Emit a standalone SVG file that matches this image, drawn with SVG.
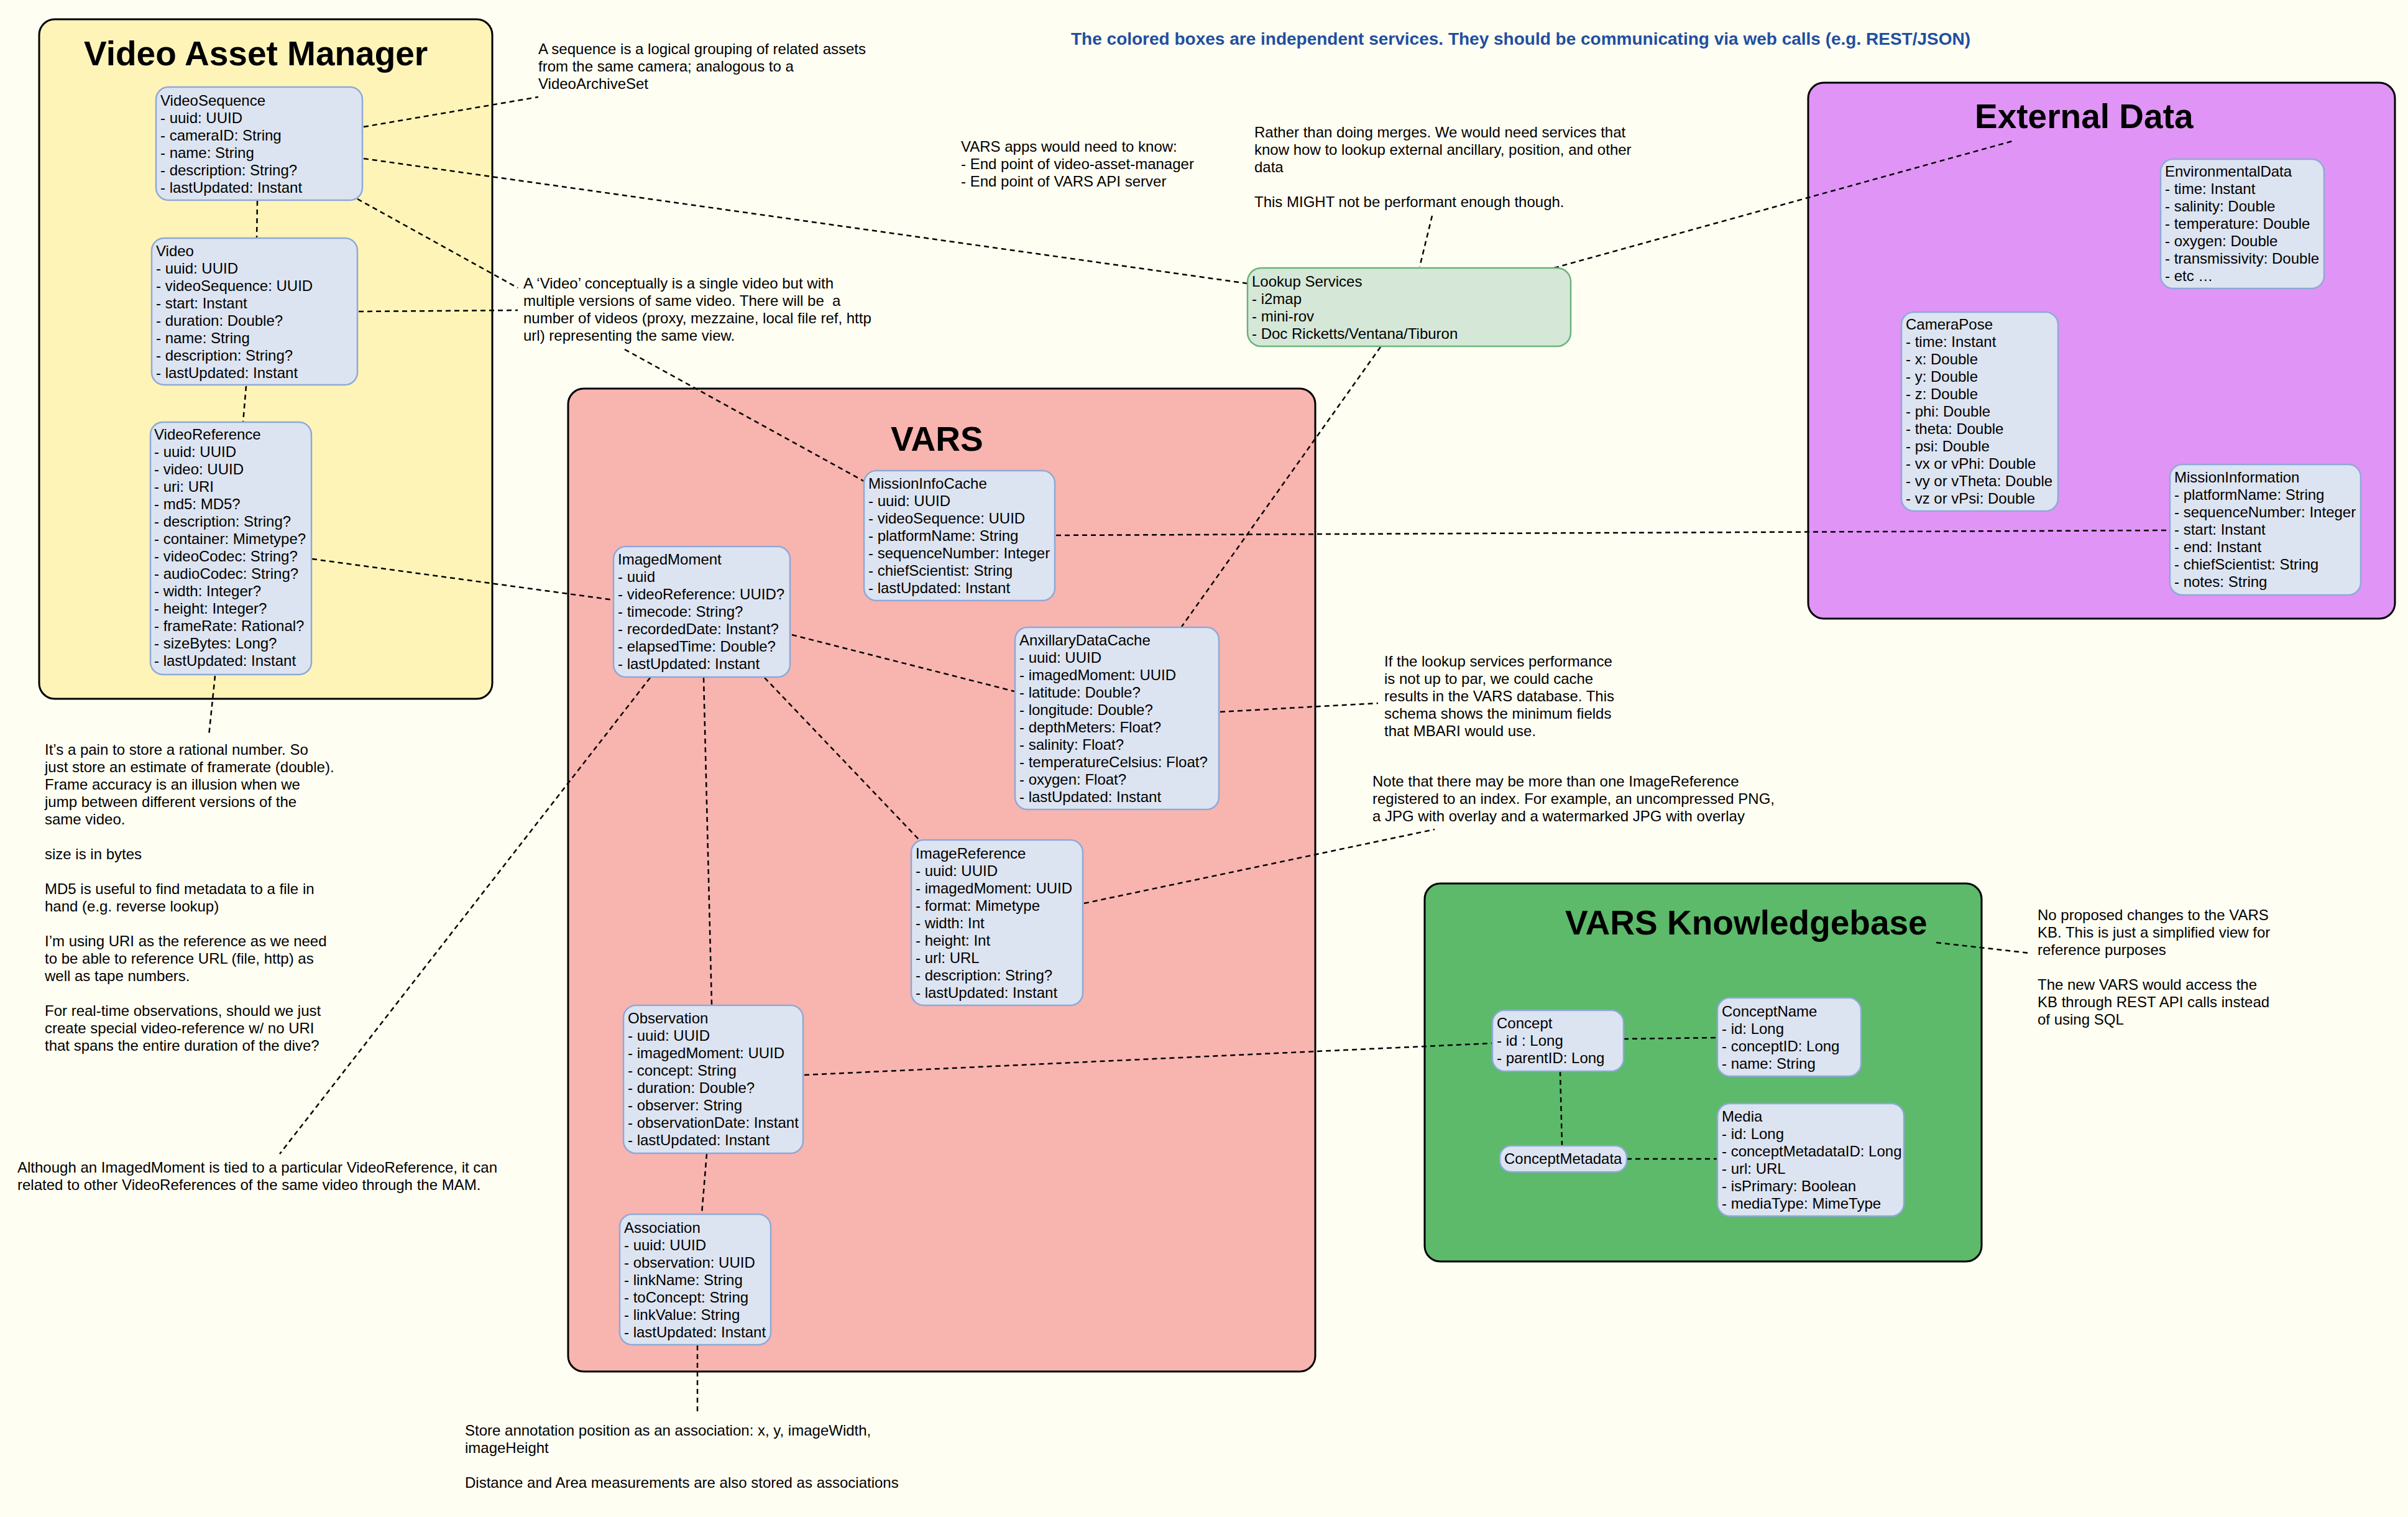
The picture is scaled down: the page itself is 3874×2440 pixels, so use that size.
<svg xmlns="http://www.w3.org/2000/svg" width="3874" height="2440" viewBox="0 0 3874 2440">
<style>
.t{font-family:"Liberation Sans",Arial,Helvetica,sans-serif;font-size:24px;fill:#000}
.ttl{font-family:"Liberation Sans",Arial,Helvetica,sans-serif;font-size:55px;font-weight:bold;fill:#000}
.hdr{font-family:"Liberation Sans",Arial,Helvetica,sans-serif;font-size:28px;font-weight:bold;fill:#1f4fa0}
.c{stroke:#000;stroke-width:3}
.n{fill:#dde4f1;stroke:#8ea9d8;stroke-width:2.5}
.lk{fill:#d5e8d8;stroke:#6ab37a;stroke-width:2.5}
.e{fill:none;stroke:#000;stroke-width:2.5;stroke-dasharray:8 6}
</style>
<rect x="0" y="0" width="3874" height="2440" fill="#fffef2"/>

<g id="containers">
  <g id="vam">
    <rect class="c" x="63" y="31" width="729" height="1093" rx="25" fill="#fff4b8"/>
    <text class="ttl" x="135" y="105">Video Asset Manager</text>
  </g>
  <g id="vars">
    <rect class="c" x="914" y="625" width="1202" height="1581" rx="25" fill="#f8b4af"/>
    <text class="ttl" x="1433" y="725">VARS</text>
  </g>
  <g id="external">
    <rect class="c" x="2909" y="133" width="944" height="862" rx="25" fill="#e094f6"/>
    <text class="ttl" x="3177" y="206">External Data</text>
  </g>
  <g id="kb">
    <rect class="c" x="2292" y="1421" width="896" height="608" rx="25" fill="#5cba6a"/>
    <text class="ttl" x="2518" y="1503">VARS Knowledgebase</text>
  </g>
</g>

<g id="connectors">
  <line class="e" x1="585" y1="204" x2="866" y2="156"/>
  <line class="e" x1="585" y1="255" x2="2007" y2="456"/>
  <line class="e" x1="575" y1="320" x2="833" y2="463"/>
  <line class="e" x1="577" y1="501" x2="833" y2="499"/>
  <line class="e" x1="414" y1="323" x2="413" y2="383"/>
  <line class="e" x1="396" y1="621" x2="391" y2="679"/>
  <line class="e" x1="502" y1="899" x2="987" y2="965"/>
  <line class="e" x1="346" y1="1087" x2="336" y2="1183"/>
  <line class="e" x1="1005" y1="562" x2="1390" y2="774"/>
  <line class="e" x1="2304" y1="347" x2="2284" y2="429"/>
  <line class="e" x1="2500" y1="431" x2="3241" y2="226"/>
  <line class="e" x1="2221" y1="558" x2="1901" y2="1008"/>
  <line class="e" x1="1274" y1="1021" x2="1632" y2="1112"/>
  <line class="e" x1="1132" y1="1090" x2="1145" y2="1616"/>
  <line class="e" x1="1230" y1="1090" x2="1479" y2="1351"/>
  <line class="e" x1="1046" y1="1090" x2="450" y2="1856"/>
  <line class="e" x1="1963" y1="1145" x2="2217" y2="1131"/>
  <line class="e" x1="1699" y1="861" x2="3490" y2="853"/>
  <line class="e" x1="1744" y1="1453" x2="2308" y2="1334"/>
  <line class="e" x1="1294" y1="1729" x2="2401" y2="1678"/>
  <line class="e" x1="1137" y1="1856" x2="1129" y2="1952"/>
  <line class="e" x1="1122" y1="2164" x2="1122" y2="2275"/>
  <line class="e" x1="2612" y1="1671" x2="2763" y2="1669"/>
  <line class="e" x1="2510" y1="1723" x2="2513" y2="1843"/>
  <line class="e" x1="2617" y1="1864" x2="2763" y2="1864"/>
  <line class="e" x1="3115" y1="1516" x2="3265" y2="1533"/>
</g>

<g id="VideoSequence">
  <rect class="n" x="251" y="140" width="332" height="182" rx="20"/>
  <text class="t"><tspan x="258" y="170">VideoSequence</tspan><tspan x="258" y="198">- uuid: UUID</tspan><tspan x="258" y="226">- cameraID: String</tspan><tspan x="258" y="254">- name: String</tspan><tspan x="258" y="282">- description: String?</tspan><tspan x="258" y="310">- lastUpdated: Instant</tspan></text>
</g>
<g id="Video">
  <rect class="n" x="244" y="383" width="331" height="236" rx="20"/>
  <text class="t"><tspan x="251" y="412">Video</tspan><tspan x="251" y="440">- uuid: UUID</tspan><tspan x="251" y="468">- videoSequence: UUID</tspan><tspan x="251" y="496">- start: Instant</tspan><tspan x="251" y="524">- duration: Double?</tspan><tspan x="251" y="552">- name: String</tspan><tspan x="251" y="580">- description: String?</tspan><tspan x="251" y="608">- lastUpdated: Instant</tspan></text>
</g>
<g id="VideoReference">
  <rect class="n" x="242" y="679" width="259" height="406" rx="20"/>
  <text class="t"><tspan x="248" y="707">VideoReference</tspan><tspan x="248" y="735">- uuid: UUID</tspan><tspan x="248" y="763">- video: UUID</tspan><tspan x="248" y="791">- uri: URI</tspan><tspan x="248" y="819">- md5: MD5?</tspan><tspan x="248" y="847">- description: String?</tspan><tspan x="248" y="875">- container: Mimetype?</tspan><tspan x="248" y="903">- videoCodec: String?</tspan><tspan x="248" y="931">- audioCodec: String?</tspan><tspan x="248" y="959">- width: Integer?</tspan><tspan x="248" y="987">- height: Integer?</tspan><tspan x="248" y="1015">- frameRate: Rational?</tspan><tspan x="248" y="1043">- sizeBytes: Long?</tspan><tspan x="248" y="1071">- lastUpdated: Instant</tspan></text>
</g>

<g id="LookupServices">
  <rect class="lk" x="2007" y="431" width="520" height="126" rx="22"/>
  <text class="t"><tspan x="2014" y="461">Lookup Services</tspan><tspan x="2014" y="489">- i2map</tspan><tspan x="2014" y="517">- mini-rov</tspan><tspan x="2014" y="545">- Doc Ricketts/Ventana/Tiburon</tspan></text>
</g>

<g id="MissionInfoCache">
  <rect class="n" x="1390" y="757" width="307" height="209" rx="20"/>
  <text class="t"><tspan x="1397" y="786">MissionInfoCache</tspan><tspan x="1397" y="814">- uuid: UUID</tspan><tspan x="1397" y="842">- videoSequence: UUID</tspan><tspan x="1397" y="870">- platformName: String</tspan><tspan x="1397" y="898">- sequenceNumber: Integer</tspan><tspan x="1397" y="926">- chiefScientist: String</tspan><tspan x="1397" y="954">- lastUpdated: Instant</tspan></text>
</g>
<g id="ImagedMoment">
  <rect class="n" x="987" y="879" width="284" height="210" rx="20"/>
  <text class="t"><tspan x="994" y="908">ImagedMoment</tspan><tspan x="994" y="936">- uuid</tspan><tspan x="994" y="964">- videoReference: UUID?</tspan><tspan x="994" y="992">- timecode: String?</tspan><tspan x="994" y="1020">- recordedDate: Instant?</tspan><tspan x="994" y="1048">- elapsedTime: Double?</tspan><tspan x="994" y="1076">- lastUpdated: Instant</tspan></text>
</g>
<g id="AnxillaryDataCache">
  <rect class="n" x="1633" y="1009" width="328" height="293" rx="20"/>
  <text class="t"><tspan x="1640" y="1038">AnxillaryDataCache</tspan><tspan x="1640" y="1066">- uuid: UUID</tspan><tspan x="1640" y="1094">- imagedMoment: UUID</tspan><tspan x="1640" y="1122">- latitude: Double?</tspan><tspan x="1640" y="1150">- longitude: Double?</tspan><tspan x="1640" y="1178">- depthMeters: Float?</tspan><tspan x="1640" y="1206">- salinity: Float?</tspan><tspan x="1640" y="1234">- temperatureCelsius: Float?</tspan><tspan x="1640" y="1262">- oxygen: Float?</tspan><tspan x="1640" y="1290">- lastUpdated: Instant</tspan></text>
</g>
<g id="ImageReference">
  <rect class="n" x="1466" y="1351" width="276" height="266" rx="20"/>
  <text class="t"><tspan x="1473" y="1381">ImageReference</tspan><tspan x="1473" y="1409">- uuid: UUID</tspan><tspan x="1473" y="1437">- imagedMoment: UUID</tspan><tspan x="1473" y="1465">- format: Mimetype</tspan><tspan x="1473" y="1493">- width: Int</tspan><tspan x="1473" y="1521">- height: Int</tspan><tspan x="1473" y="1549">- url: URL</tspan><tspan x="1473" y="1577">- description: String?</tspan><tspan x="1473" y="1605">- lastUpdated: Instant</tspan></text>
</g>
<g id="Observation">
  <rect class="n" x="1003" y="1617" width="289" height="238" rx="20"/>
  <text class="t"><tspan x="1010" y="1646">Observation</tspan><tspan x="1010" y="1674">- uuid: UUID</tspan><tspan x="1010" y="1702">- imagedMoment: UUID</tspan><tspan x="1010" y="1730">- concept: String</tspan><tspan x="1010" y="1758">- duration: Double?</tspan><tspan x="1010" y="1786">- observer: String</tspan><tspan x="1010" y="1814">- observationDate: Instant</tspan><tspan x="1010" y="1842">- lastUpdated: Instant</tspan></text>
</g>
<g id="Association">
  <rect class="n" x="997" y="1953" width="243" height="210" rx="20"/>
  <text class="t"><tspan x="1004" y="1983">Association</tspan><tspan x="1004" y="2011">- uuid: UUID</tspan><tspan x="1004" y="2039">- observation: UUID</tspan><tspan x="1004" y="2067">- linkName: String</tspan><tspan x="1004" y="2095">- toConcept: String</tspan><tspan x="1004" y="2123">- linkValue: String</tspan><tspan x="1004" y="2151">- lastUpdated: Instant</tspan></text>
</g>

<g id="EnvironmentalData">
  <rect class="n" x="3476" y="256" width="263" height="208" rx="20"/>
  <text class="t"><tspan x="3483" y="284">EnvironmentalData</tspan><tspan x="3483" y="312">- time: Instant</tspan><tspan x="3483" y="340">- salinity: Double</tspan><tspan x="3483" y="368">- temperature: Double</tspan><tspan x="3483" y="396">- oxygen: Double</tspan><tspan x="3483" y="424">- transmissivity: Double</tspan><tspan x="3483" y="452">- etc …</tspan></text>
</g>
<g id="CameraPose">
  <rect class="n" x="3059" y="502" width="252" height="320" rx="20"/>
  <text class="t"><tspan x="3066" y="530">CameraPose</tspan><tspan x="3066" y="558">- time: Instant</tspan><tspan x="3066" y="586">- x: Double</tspan><tspan x="3066" y="614">- y: Double</tspan><tspan x="3066" y="642">- z: Double</tspan><tspan x="3066" y="670">- phi: Double</tspan><tspan x="3066" y="698">- theta: Double</tspan><tspan x="3066" y="726">- psi: Double</tspan><tspan x="3066" y="754">- vx or vPhi: Double</tspan><tspan x="3066" y="782">- vy or vTheta: Double</tspan><tspan x="3066" y="810">- vz or vPsi: Double</tspan></text>
</g>
<g id="MissionInformation">
  <rect class="n" x="3491" y="747" width="307" height="210" rx="20"/>
  <text class="t"><tspan x="3498" y="776">MissionInformation</tspan><tspan x="3498" y="804">- platformName: String</tspan><tspan x="3498" y="832">- sequenceNumber: Integer</tspan><tspan x="3498" y="860">- start: Instant</tspan><tspan x="3498" y="888">- end: Instant</tspan><tspan x="3498" y="916">- chiefScientist: String</tspan><tspan x="3498" y="944">- notes: String</tspan></text>
</g>

<g id="Concept">
  <rect class="n" x="2401" y="1625" width="211" height="98" rx="20"/>
  <text class="t"><tspan x="2408" y="1654">Concept</tspan><tspan x="2408" y="1682">- id : Long</tspan><tspan x="2408" y="1710">- parentID: Long</tspan></text>
</g>
<g id="ConceptName">
  <rect class="n" x="2763" y="1605" width="231" height="126" rx="20"/>
  <text class="t"><tspan x="2770" y="1635">ConceptName</tspan><tspan x="2770" y="1663">- id: Long</tspan><tspan x="2770" y="1691">- conceptID: Long</tspan><tspan x="2770" y="1719">- name: String</tspan></text>
</g>
<g id="ConceptMetadata">
  <rect class="n" x="2413" y="1843" width="204" height="42" rx="18"/>
  <text class="t" x="2420" y="1872">ConceptMetadata</text>
</g>
<g id="Media">
  <rect class="n" x="2763" y="1775" width="300" height="181" rx="20"/>
  <text class="t"><tspan x="2770" y="1804">Media</tspan><tspan x="2770" y="1832">- id: Long</tspan><tspan x="2770" y="1860">- conceptMetadataID: Long</tspan><tspan x="2770" y="1888">- url: URL</tspan><tspan x="2770" y="1916">- isPrimary: Boolean</tspan><tspan x="2770" y="1944">- mediaType: MimeType</tspan></text>
</g>

<g id="notes">
  <text class="hdr" x="1723" y="72">The colored boxes are independent services. They should be communicating via web calls (e.g. REST/JSON)</text>
  <text class="t"><tspan x="866" y="87">A sequence is a logical grouping of related assets</tspan><tspan x="866" y="115">from the same camera; analogous to a</tspan><tspan x="866" y="143">VideoArchiveSet</tspan></text>
  <text class="t" xml:space="preserve"><tspan x="842" y="464">A ‘Video’ conceptually is a single video but with</tspan><tspan x="842" y="492">multiple versions of same video. There will be  a</tspan><tspan x="842" y="520">number of videos (proxy, mezzaine, local file ref, http</tspan><tspan x="842" y="548">url) representing the same view.</tspan></text>
  <text class="t"><tspan x="1546" y="244">VARS apps would need to know:</tspan><tspan x="1546" y="272">- End point of video-asset-manager</tspan><tspan x="1546" y="300">- End point of VARS API server</tspan></text>
  <text class="t"><tspan x="2018" y="221">Rather than doing merges. We would need services that</tspan><tspan x="2018" y="249">know how to lookup external ancillary, position, and other</tspan><tspan x="2018" y="277">data</tspan><tspan x="2018" y="333">This MIGHT not be performant enough though.</tspan></text>
  <text class="t"><tspan x="72" y="1214">It’s a pain to store a rational number. So</tspan><tspan x="72" y="1242">just store an estimate of framerate (double).</tspan><tspan x="72" y="1270">Frame accuracy is an illusion when we</tspan><tspan x="72" y="1298">jump between different versions of the</tspan><tspan x="72" y="1326">same video.</tspan><tspan x="72" y="1382">size is in bytes</tspan><tspan x="72" y="1438">MD5 is useful to find metadata to a file in</tspan><tspan x="72" y="1466">hand (e.g. reverse lookup)</tspan><tspan x="72" y="1522">I’m using URI as the reference as we need</tspan><tspan x="72" y="1550">to be able to reference URL (file, http) as</tspan><tspan x="72" y="1578">well as tape numbers.</tspan><tspan x="72" y="1634">For real-time observations, should we just</tspan><tspan x="72" y="1662">create special video-reference w/ no URI</tspan><tspan x="72" y="1690">that spans the entire duration of the dive?</tspan></text>
  <text class="t"><tspan x="28" y="1886">Although an ImagedMoment is tied to a particular VideoReference, it can</tspan><tspan x="28" y="1914">related to other VideoReferences of the same video through the MAM.</tspan></text>
  <text class="t"><tspan x="2227" y="1072">If the lookup services performance</tspan><tspan x="2227" y="1100">is not up to par, we could cache</tspan><tspan x="2227" y="1128">results in the VARS database. This</tspan><tspan x="2227" y="1156">schema shows the minimum fields</tspan><tspan x="2227" y="1184">that MBARI would use.</tspan></text>
  <text class="t"><tspan x="2208" y="1265">Note that there may be more than one ImageReference</tspan><tspan x="2208" y="1293">registered to an index. For example, an uncompressed PNG,</tspan><tspan x="2208" y="1321">a JPG with overlay and a watermarked JPG with overlay</tspan></text>
  <text class="t"><tspan x="3278" y="1480">No proposed changes to the VARS</tspan><tspan x="3278" y="1508">KB. This is just a simplified view for</tspan><tspan x="3278" y="1536">reference purposes</tspan><tspan x="3278" y="1592">The new VARS would access the</tspan><tspan x="3278" y="1620">KB through REST API calls instead</tspan><tspan x="3278" y="1648">of using SQL</tspan></text>
  <text class="t"><tspan x="748" y="2309">Store annotation position as an association: x, y, imageWidth,</tspan><tspan x="748" y="2337">imageHeight</tspan><tspan x="748" y="2393">Distance and Area measurements are also stored as associations</tspan></text>
</g>
</svg>
